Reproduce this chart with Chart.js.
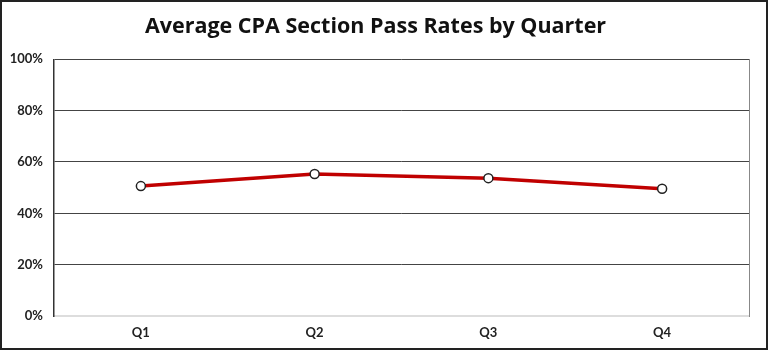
<!DOCTYPE html>
<html>
<head>
<meta charset="utf-8">
<script src="https://cdn.jsdelivr.net/npm/chart.js@4"></script>
<style>
  html, body { margin: 0; padding: 0; background: #fff; }
  #frame {
    width: 768px; height: 350px; box-sizing: border-box;
    border: 2px solid #222; background: #fff;
  }
  #frame canvas { display: block; }
</style>
</head>
<body>
<div id="frame"><canvas id="passChart" width="764" height="346"></canvas></div>
<script>
// chart data
const quarters = ['Q1', 'Q2', 'Q3', 'Q4'];
const passRates = [50.6, 55.3, 53.7, 49.6];
const yTicks = [0, 20, 40, 60, 80, 100];
const chartTitle = 'Average CPA Section Pass Rates by Quarter';

const titleFont = "'Open Sans', Lato, sans-serif";
const tickFont = "Lato, 'Open Sans', sans-serif";

const ctx = document.getElementById('passChart').getContext('2d');
new Chart(ctx, {
    type: 'line',
    data: {
        labels: quarters,
        datasets: [{
            label: 'Pass rate',
            data: passRates,
            borderColor: '#c00000',
            borderWidth: 3.5,
            tension: 0,
            pointRadius: 4.5,
            pointBackgroundColor: '#fff',
            pointBorderColor: '#222',
            pointBorderWidth: 1.5
        }]
    },
    options: {
        responsive: false,
        animation: false,
        layout: { padding: { top: 0, left: 0, right: 17, bottom: 0 } },
        plugins: {
            legend: { display: false },
            tooltip: { enabled: false },
            title: {
                display: true,
                text: chartTitle,
                color: '#111',
                font: { family: titleFont, size: 21.5, weight: 'bold' },
                padding: { top: 12, bottom: 19.5 }
            }
        },
        scales: {
            x: {
                offset: true,
                grid: { display: false, drawTicks: false },
                border: { display: true, color: '#ddd', width: 2 },
                ticks: {
                    color: '#222',
                    padding: 9,
                    font: { family: tickFont, size: 13, weight: 'bold' }
                },
                afterFit: (scale) => { scale.height = 32; }
            },
            y: {
                min: 0,
                max: 100,
                afterBuildTicks: (scale) => { scale.ticks = yTicks.map(v => ({ value: v })); },
                grid: { color: '#444', lineWidth: 1, drawTicks: false },
                border: { display: true, color: '#333', width: 1.5 },
                ticks: {
                    color: '#222',
                    padding: 11,
                    font: { family: tickFont, size: 13, weight: 'bold' },
                    callback: (v) => v + '%'
                },
                afterFit: (scale) => { scale.width = 52; }
            },
            yRight: {
                position: 'right',
                min: 0,
                max: 100,
                grid: { display: false, drawTicks: false },
                border: { display: true, color: '#888', width: 1 },
                ticks: { display: false },
                afterFit: (scale) => { scale.width = 0; }
            }
        }
    }
});
</script>
</body>
</html>
